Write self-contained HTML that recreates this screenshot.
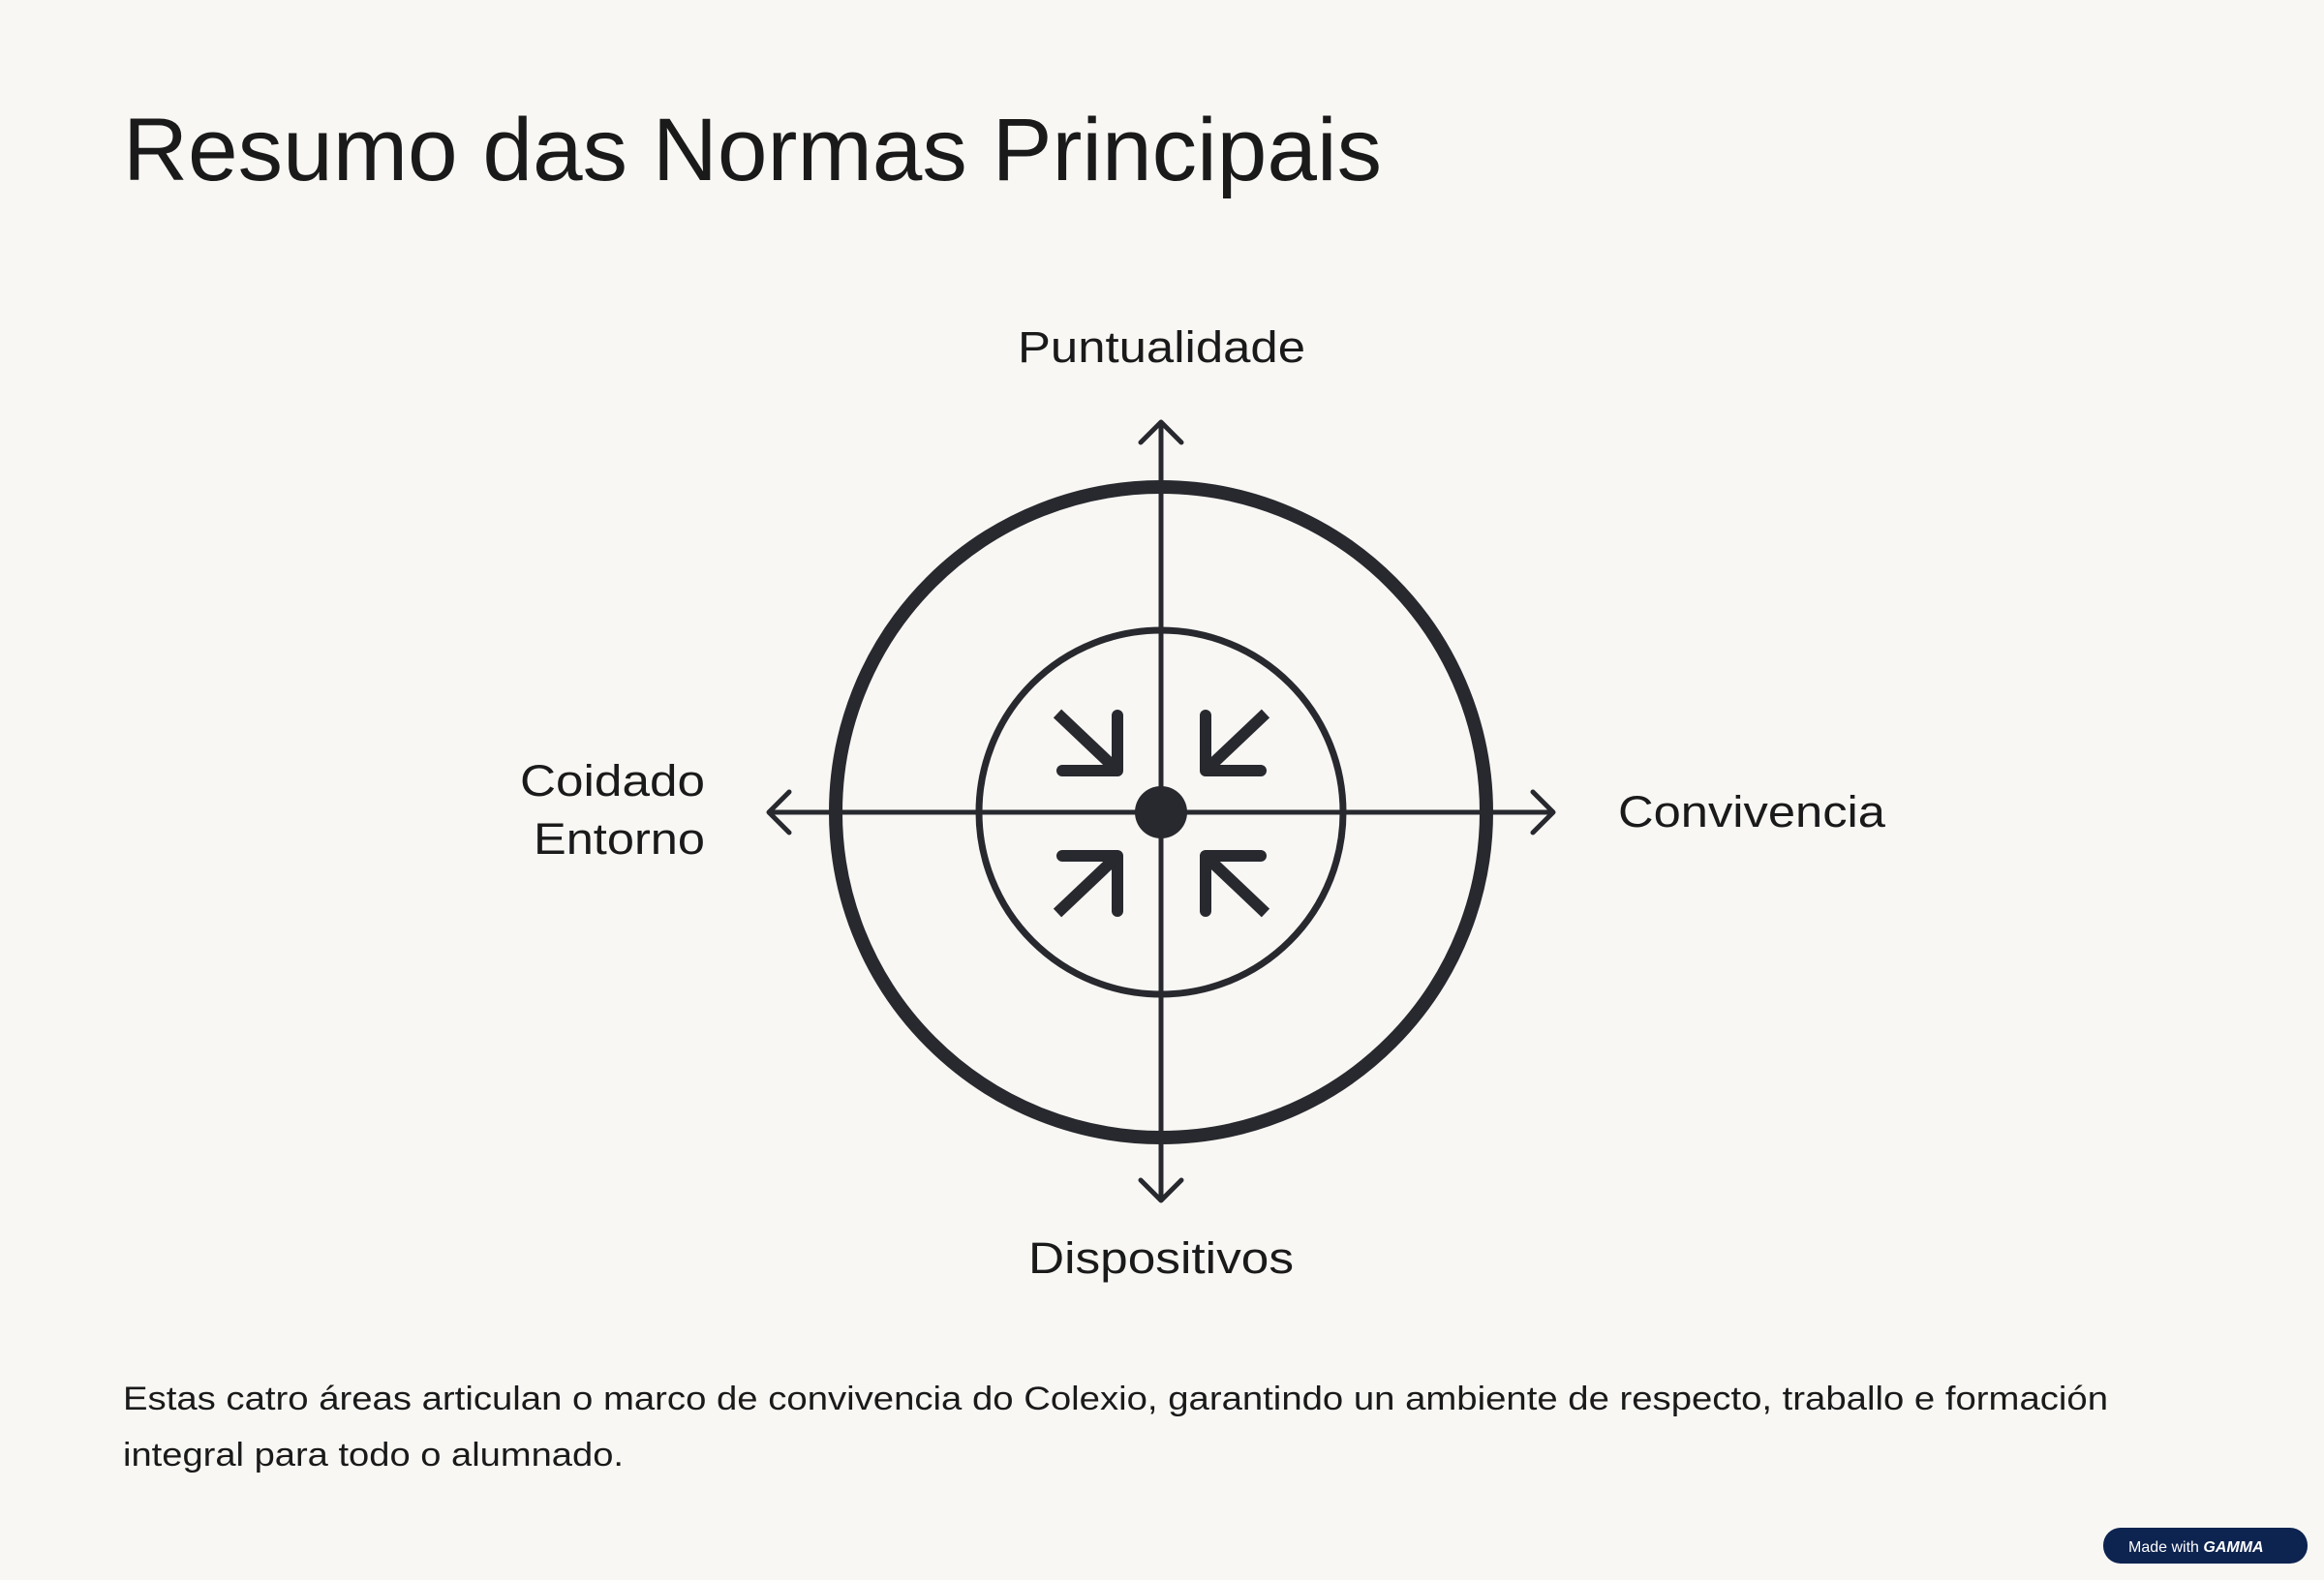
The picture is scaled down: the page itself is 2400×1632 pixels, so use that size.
<!DOCTYPE html>
<html><head><meta charset="utf-8"><style>
html,body{margin:0;padding:0;background:#f8f7f4;}
body{width:2400px;height:1632px;position:relative;overflow:hidden;font-family:"Liberation Sans",sans-serif;color:#1a1a1a;}
</style></head><body>
<svg width="2400" height="1632" viewBox="0 0 2400 1632" xmlns="http://www.w3.org/2000/svg" style="position:absolute;left:0;top:0">
<rect width="2400" height="1632" fill="#f8f7f4"/>
<text x="127" y="186" font-family="Liberation Sans, sans-serif" font-size="92" fill="#1a1a1a" textLength="1300" lengthAdjust="spacingAndGlyphs">Resumo das Normas Principais</text>
<g stroke="#28292e" fill="none" stroke-linecap="round" stroke-linejoin="round">
<circle cx="1199" cy="839" r="336" stroke-width="14"/>
<circle cx="1199" cy="839" r="188" stroke-width="7"/>
<line x1="1199" y1="438" x2="1199" y2="1238" stroke-width="5"/>
<line x1="796" y1="839" x2="1602" y2="839" stroke-width="5"/>
<polyline points="1178,457 1199,436 1220,457" stroke-width="5"/>
<polyline points="1178,1219 1199,1240 1220,1219" stroke-width="5"/>
<polyline points="815,818 794,839 815,860" stroke-width="5"/>
<polyline points="1583,818 1604,839 1583,860" stroke-width="5"/>
<g stroke-width="12">
<polyline points="1097,796 1154,796 1154,739"/><line x1="1092" y1="737" x2="1150" y2="792" stroke-linecap="butt"/>
<polyline points="1302,796 1245,796 1245,739"/><line x1="1307" y1="737" x2="1249" y2="792" stroke-linecap="butt"/>
<polyline points="1097,884 1154,884 1154,941"/><line x1="1092" y1="943" x2="1150" y2="888" stroke-linecap="butt"/>
<polyline points="1302,884 1245,884 1245,941"/><line x1="1307" y1="943" x2="1249" y2="888" stroke-linecap="butt"/>
</g>
</g>
<circle cx="1199" cy="839" r="27" fill="#28292e"/>
<g font-family="Liberation Sans, sans-serif" font-size="45" fill="#1a1a1a" lengthAdjust="spacingAndGlyphs">
<text x="1051" y="374" textLength="297" lengthAdjust="spacingAndGlyphs">Puntualidade</text>
<text x="1062" y="1315" textLength="274" lengthAdjust="spacingAndGlyphs">Dispositivos</text>
<text x="1671" y="854" textLength="276" lengthAdjust="spacingAndGlyphs">Convivencia</text>
<text x="537" y="822" textLength="191" lengthAdjust="spacingAndGlyphs">Coidado</text>
<text x="551" y="882" textLength="177" lengthAdjust="spacingAndGlyphs">Entorno</text>
</g>
<g font-family="Liberation Sans, sans-serif" font-size="34" fill="#1a1a1a">
<text x="127" y="1456" textLength="2050" lengthAdjust="spacingAndGlyphs">Estas catro áreas articulan o marco de convivencia do Colexio, garantindo un ambiente de respecto, traballo e formación</text>
<text x="127" y="1514" textLength="517" lengthAdjust="spacingAndGlyphs">integral para todo o alumnado.</text>
</g>
<rect x="2172" y="1578" width="211" height="37" rx="18" fill="#0d2350"/>
<text x="2198" y="1603" font-family="Liberation Sans, sans-serif" font-size="16" fill="#fff">Made with <tspan font-weight="bold" font-style="italic">GAMMA</tspan></text>
</svg>
</body></html>
